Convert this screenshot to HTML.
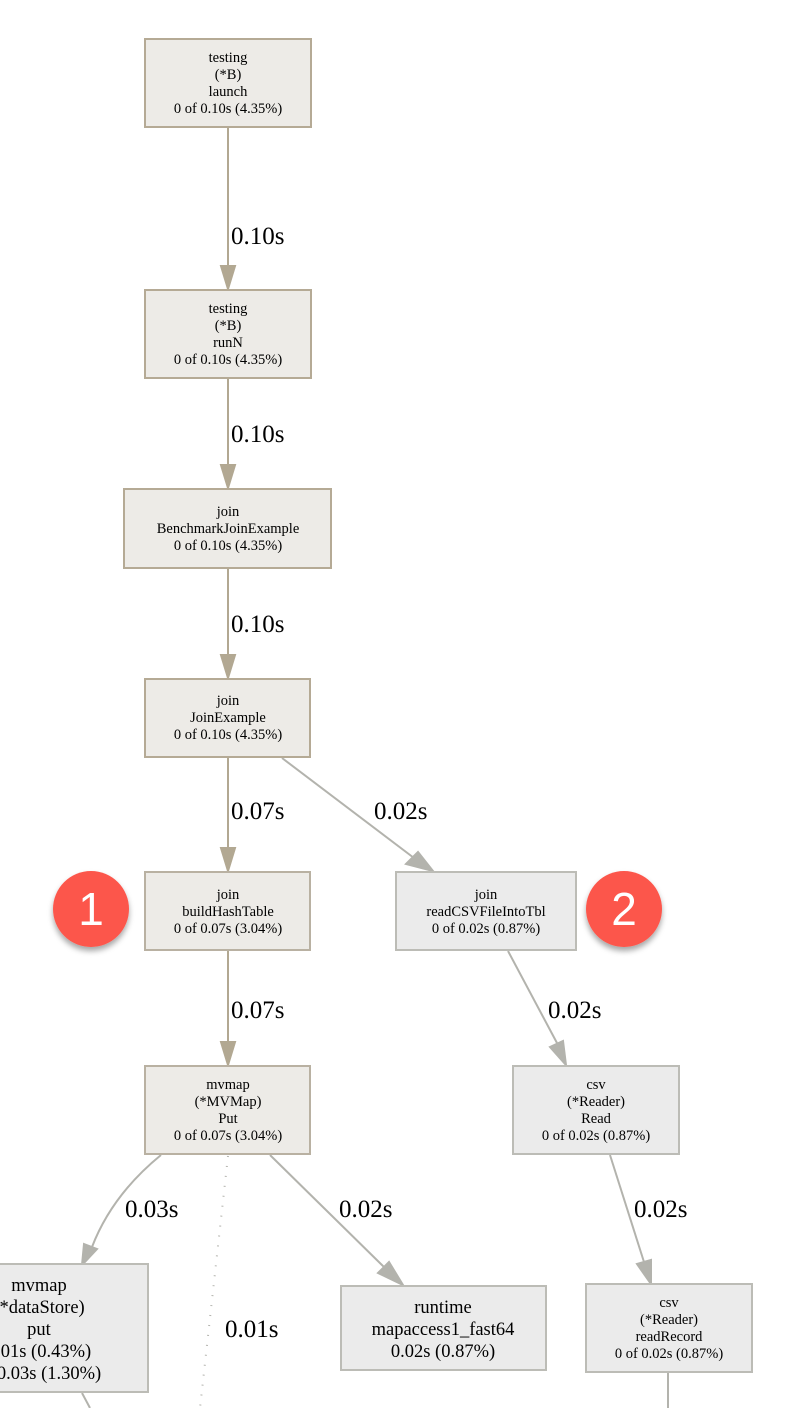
<!DOCTYPE html>
<html><head><meta charset="utf-8"><style>
html,body{margin:0;padding:0;background:#fff;width:798px;height:1408px;overflow:hidden}
svg text{font-family:"Liberation Serif",serif;fill:#000}
</style></head><body>
<svg width="798" height="1408" viewBox="0 0 798 1408" xmlns="http://www.w3.org/2000/svg">
<defs>
<filter id="sh" x="-30%" y="-30%" width="160%" height="170%"><feDropShadow dx="0" dy="4" stdDeviation="3" flood-color="#000" flood-opacity="0.35"/></filter>
</defs>
<g font-size="14.5" text-anchor="middle">
<g stroke="#b2a892" stroke-width="2" fill="#b2a892">
<line x1="228" y1="128" x2="228" y2="268"/><polygon points="221,266 235,266 228,289"/>
<line x1="228" y1="379" x2="228" y2="467"/><polygon points="221,465 235,465 228,488"/>
<line x1="228" y1="569" x2="228" y2="657"/><polygon points="221,655 235,655 228,678"/>
<line x1="228" y1="758" x2="228" y2="850"/><polygon points="221,848 235,848 228,871"/>
<line x1="228" y1="951" x2="228" y2="1044"/><polygon points="221,1042 235,1042 228,1065"/>
</g>
<g stroke="#b3b3ad" stroke-width="2" fill="#b3b3ad">
<line x1="282" y1="758" x2="414" y2="858"/><polygon points="406,864 418,852 433,871"/>
<line x1="508" y1="951" x2="557" y2="1043"/><polygon points="550,1047 563,1041 566,1065"/>
<line x1="610" y1="1155" x2="644" y2="1262"/><polygon points="637,1264 651,1260 651,1284"/>
<path d="M161,1155 Q112,1195 92,1247" fill="none"/><polygon points="84,1244 97,1249 82,1265"/>
<line x1="270" y1="1155" x2="385" y2="1268"/><polygon points="378,1273 389,1262 403,1285"/>
<line x1="668" y1="1373" x2="668" y2="1408"/>
<line x1="82" y1="1393" x2="90" y2="1408"/>
<line x1="228" y1="1156" x2="200" y2="1408" stroke-dasharray="1 9" stroke-width="2"/>
</g>
<g stroke-width="2">
<rect x="145" y="39" width="166" height="88" fill="#edebe7" stroke="#b5aa95"/>
<rect x="145" y="290" width="166" height="88" fill="#edebe7" stroke="#b5aa95"/>
<rect x="124" y="489" width="207" height="79" fill="#edebe7" stroke="#b5aa95"/>
<rect x="145" y="679" width="165" height="78" fill="#edebe7" stroke="#b5aa95"/>
<rect x="145" y="872" width="165" height="78" fill="#edebe7" stroke="#b9b1a2"/>
<rect x="396" y="872" width="180" height="78" fill="#ebebeb" stroke="#bcbcb6"/>
<rect x="145" y="1066" width="165" height="88" fill="#edebe7" stroke="#b9b1a2"/>
<rect x="513" y="1066" width="166" height="88" fill="#ebebeb" stroke="#bcbcb6"/>
<rect x="-74" y="1264" width="222" height="128" fill="#ebebeb" stroke="#bcbcb6"/>
<rect x="341" y="1286" width="205" height="84" fill="#ebebeb" stroke="#bcbcb6"/>
<rect x="586" y="1284" width="166" height="88" fill="#ebebeb" stroke="#bcbcb6"/>
</g>
<text x="228" y="62">testing</text><text x="228" y="79">(*B)</text><text x="228" y="96">launch</text><text x="228" y="113">0 of 0.10s (4.35%)</text>
<text x="228" y="313">testing</text><text x="228" y="330">(*B)</text><text x="228" y="347">runN</text><text x="228" y="364">0 of 0.10s (4.35%)</text>
<text x="228" y="516">join</text><text x="228" y="533">BenchmarkJoinExample</text><text x="228" y="550">0 of 0.10s (4.35%)</text>
<text x="228" y="705">join</text><text x="228" y="722">JoinExample</text><text x="228" y="739">0 of 0.10s (4.35%)</text>
<text x="228" y="899">join</text><text x="228" y="916">buildHashTable</text><text x="228" y="933">0 of 0.07s (3.04%)</text>
<text x="486" y="899">join</text><text x="486" y="916">readCSVFileIntoTbl</text><text x="486" y="933">0 of 0.02s (0.87%)</text>
<text x="228" y="1089">mvmap</text><text x="228" y="1106">(*MVMap)</text><text x="228" y="1123">Put</text><text x="228" y="1140">0 of 0.07s (3.04%)</text>
<text x="596" y="1089">csv</text><text x="596" y="1106">(*Reader)</text><text x="596" y="1123">Read</text><text x="596" y="1140">0 of 0.02s (0.87%)</text>
<text x="669" y="1307">csv</text><text x="669" y="1324">(*Reader)</text><text x="669" y="1341">readRecord</text><text x="669" y="1358">0 of 0.02s (0.87%)</text>
<g font-size="18.5">
<text x="39" y="1291">mvmap</text><text x="39" y="1313">(*dataStore)</text><text x="39" y="1335">put</text><text x="39" y="1357">0.01s (0.43%)</text><text x="39" y="1379">of 0.03s (1.30%)</text>
<text x="443" y="1313">runtime</text><text x="443" y="1335">mapaccess1_fast64</text><text x="443" y="1357">0.02s (0.87%)</text>
</g>
<g font-size="25" text-anchor="start">
<text x="231" y="244">0.10s</text>
<text x="231" y="442">0.10s</text>
<text x="231" y="632">0.10s</text>
<text x="231" y="819">0.07s</text>
<text x="374" y="819">0.02s</text>
<text x="231" y="1018">0.07s</text>
<text x="548" y="1018">0.02s</text>
<text x="125" y="1217">0.03s</text>
<text x="339" y="1217">0.02s</text>
<text x="634" y="1217">0.02s</text>
<text x="225" y="1337">0.01s</text>
</g>
<g filter="url(#sh)">
<circle cx="91" cy="909" r="38" fill="#fc574b"/>
<circle cx="624" cy="909" r="38" fill="#fc574b"/>
</g>
<text x="91" y="925" font-size="46" style="fill:#fff;font-family:'Liberation Sans',sans-serif">1</text>
<text x="624" y="925" font-size="46" style="fill:#fff;font-family:'Liberation Sans',sans-serif">2</text>
</g>
</svg>
</body></html>
